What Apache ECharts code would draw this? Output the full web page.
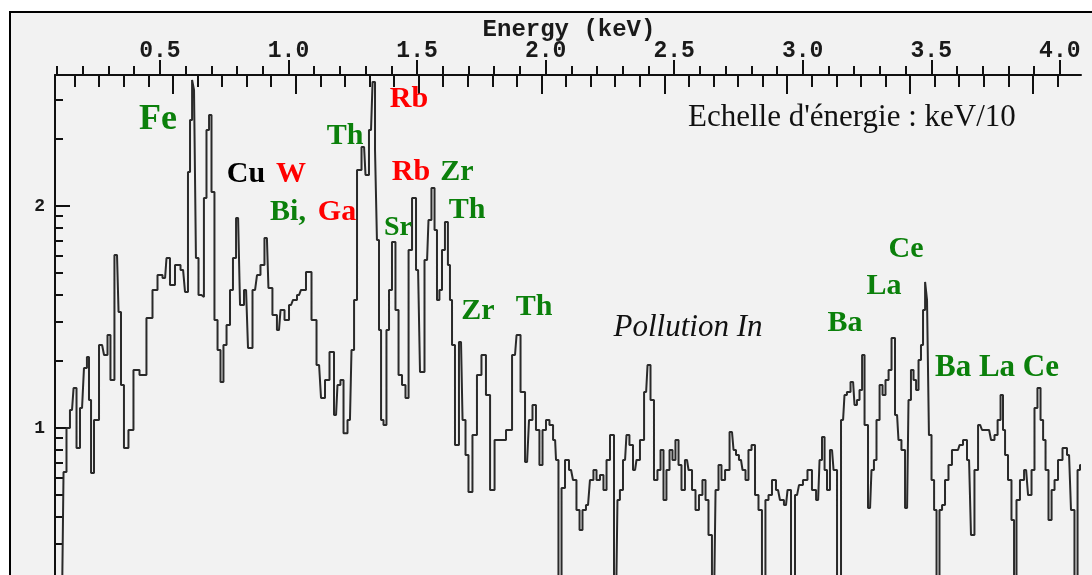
<!DOCTYPE html>
<html>
<head>
<meta charset="utf-8">
<script src="https://cdn.jsdelivr.net/npm/echarts@6/dist/echarts.min.js"></script>
<style>
  html, body { margin: 0; padding: 0; background: #ffffff; }
  #frame { position: absolute; left: 9px; top: 11px; width: 1200px; height: 700px;
           border: 2px solid #000; background: #f2f2f2; }
  #chart { position: absolute; left: 0; top: 0; width: 1092px; height: 575px; }
</style>
</head>
<body>
<div id="frame"></div>
<div id="chart"></div>
<script>
// ---- data (energy in keV, counts on the log10 scale shown on the left axis) ----
const energyKeV = [
0.096,0.119,0.131,0.142,0.158,0.170,0.181,0.197,0.212,0.220,
0.228,0.236,0.251,0.275,0.290,0.302,0.313,0.333,0.345,0.352,
0.368,0.387,0.407,0.434,0.461,0.481,0.500,0.520,0.531,0.547,
0.570,0.590,0.605,0.613,0.621,0.629,0.636,0.644,0.656,0.667,
0.675,0.687,0.695,0.706,0.718,0.730,0.741,0.753,0.765,0.780,
0.788,0.804,0.819,0.835,0.850,0.870,0.885,0.897,0.916,0.928,
0.947,0.963,0.975,0.994,1.010,1.025,1.041,1.056,1.080,1.099,
1.119,1.134,1.150,1.169,1.185,1.196,1.208,1.220,1.239,1.251,
1.259,1.274,1.294,1.305,1.321,1.333,1.340,1.348,1.356,1.364,
1.375,1.387,1.395,1.410,1.422,1.434,1.449,1.461,1.473,1.488,
1.504,1.519,1.539,1.550,1.562,1.574,1.581,1.593,1.601,1.616,
1.624,1.632,1.640,1.655,1.671,1.683,1.694,1.706,1.725,1.741,
1.760,1.776,1.792,1.811,1.834,1.858,1.881,1.893,1.912,1.928,
1.943,1.955,1.970,1.982,1.994,2.009,2.021,2.037,2.044,2.056,
2.068,2.083,2.099,2.114,2.126,2.138,2.149,2.165,2.180,2.192,
2.204,2.219,2.231,2.243,2.258,2.274,2.285,2.293,2.309,2.320,
2.332,2.348,2.359,2.375,2.391,2.402,2.414,2.429,2.441,2.453,
2.464,2.476,2.488,2.499,2.511,2.523,2.534,2.550,2.562,2.577,
2.589,2.604,2.616,2.628,2.639,2.655,2.667,2.678,2.690,2.706,
2.725,2.737,2.744,2.760,2.772,2.783,2.795,2.807,2.822,2.834,
2.849,2.861,2.873,2.888,2.904,2.919,2.935,2.947,2.962,2.978,
2.993,3.009,3.028,3.044,3.060,3.071,3.079,3.091,3.098,3.114,
3.126,3.141,3.157,3.168,3.176,3.196,3.207,3.215,3.227,3.235,
3.246,3.262,3.273,3.281,3.293,3.305,3.316,3.328,3.340,3.351,
3.367,3.378,3.390,3.406,3.417,3.425,3.437,3.445,3.456,3.464,
3.472,3.480,3.487,3.495,3.507,3.515,3.526,3.538,3.546,3.561,
3.573,3.588,3.604,3.616,3.631,3.647,3.662,3.674,3.690,3.705,
3.725,3.740,3.752,3.764,3.775,3.783,3.791,3.806,3.818,3.826,
3.837,3.853,3.869,3.884,3.896,3.907,3.919,3.931,3.939,3.950,
3.962,3.974,3.985,4.001,4.020,4.036,4.051,4.063,4.075,4.082
];
const logCounts = [
0.2,0.2,0.802,1.000,1.081,1.180,0.910,1.090,1.270,1.320,
1.126,0.797,1.036,1.374,1.329,1.419,1.216,1.779,1.523,1.194,
0.910,0.991,1.261,1.239,1.495,1.622,1.689,1.676,1.766,1.644,
1.734,1.712,1.613,2.153,2.387,2.568,2.523,1.766,1.599,1.590,
2.036,2.342,2.410,2.063,1.486,1.351,1.207,1.374,1.464,1.622,
1.766,1.946,1.554,1.622,1.360,1.622,1.689,1.734,1.856,1.631,
1.509,1.441,1.532,1.486,1.554,1.577,1.599,1.622,1.703,1.486,
1.284,1.135,1.216,1.342,1.059,1.194,1.216,0.977,1.036,1.351,
1.577,2.162,2.266,2.140,2.342,2.559,2.252,1.847,1.441,1.036,
1.014,1.441,1.622,1.838,1.532,1.239,1.194,1.135,1.802,2.036,
1.712,1.252,1.757,1.937,2.081,1.892,1.577,1.622,1.802,1.928,
1.734,1.577,1.374,0.923,1.387,1.036,0.878,0.712,0.968,1.239,
1.329,1.149,0.721,0.946,0.946,0.991,1.329,1.419,1.162,0.847,
1.036,1.104,0.991,0.833,0.991,1.036,1.014,0.946,0.856,0.2,
0.730,0.856,0.811,0.766,0.631,0.541,0.631,0.653,0.766,0.811,
0.766,0.788,0.721,0.856,0.968,0.2,0.676,0.721,0.856,0.968,
0.923,0.811,0.856,0.946,1.162,1.284,1.126,0.766,0.811,0.901,
0.676,0.811,0.901,0.856,0.946,0.833,0.721,0.856,0.811,0.721,
0.631,0.698,0.766,0.676,0.518,0.2,0.721,0.833,0.766,0.811,
0.982,0.901,0.878,0.856,0.811,0.766,0.901,0.923,0.698,0.631,
0.2,0.676,0.698,0.766,0.721,0.676,0.653,0.721,0.2,0.698,
0.743,0.766,0.811,0.721,0.676,0.856,0.959,0.811,0.721,0.901,
0.811,0.2,1.036,1.149,1.162,1.207,1.104,1.126,1.171,1.329,
1.014,0.640,0.811,0.856,1.036,1.194,1.149,1.216,1.261,1.405,
1.059,0.946,0.901,0.640,1.126,1.261,1.216,1.171,1.306,1.374,
1.532,1.658,1.577,0.968,0.766,0.631,0.2,0.631,0.653,0.766,
0.833,0.901,0.901,0.923,0.946,0.856,0.518,0.811,1.014,0.991,
0.991,0.946,0.968,1.036,1.149,0.991,0.878,0.766,0.586,0.2,
0.676,0.766,0.811,0.698,0.811,1.090,1.180,1.036,0.946,0.811,
0.586,0.721,0.766,0.856,0.910,0.878,0.631,0.2,0.811,0.833
];
// tick labels
const energyTickLabels = [0.5, 1.0, 1.5, 2.0, 2.5, 3.0, 3.5, 4.0];
const logTickLabels = [1, 2];
const countMinorTicks = [3,4,5,6,7,8,9,20,30,40,50,60,70,80,90,200,300];

// ---- axis decoration values ----
const energyMinorTicks = [];
for (let k = 1; k <= 40; k++) if (k % 5 !== 0) energyMinorTicks.push(k / 10);
const chanMinor = [], chanMajor = [];
for (let k = 1; k <= 41; k++) { (k % 5 === 0 ? chanMajor : chanMinor).push(k * 10); }
const yMinor = countMinorTicks.map(Math.log10);

const spectrum = energyKeV.map((e, i) => [e, logCounts[i]]);

const E_MIN = 0.0918, E_MAX = 4.0824, C_MIN = 1.99, C_MAX = 419.6, Y_MIN = 0.338, Y_MAX = 2.59;
const AX = '#111';
const mono = '"Liberation Mono", "DejaVu Sans Mono", monospace';
const serif = '"Liberation Serif", "Times New Roman", serif';

function baseX(extra) {
  return Object.assign({
    type: 'value', position: 'top', min: E_MIN, max: E_MAX,
    axisLine: { show: false }, splitLine: { show: false },
    axisLabel: { show: false }, axisTick: { show: false }
  }, extra);
}

const chart = echarts.init(document.getElementById('chart'), null, { renderer: 'canvas' });
const GREEN = '#0b800b', RED = '#ff0000';
function lbl(text, x, y, color, size, style) {
  return { type: 'text', x: x, y: y, z: 100,
    style: { text: text, fill: color, align: 'center', verticalAlign: 'middle',
             font: (style || 'bold') + ' ' + size + 'px ' + serif } };
}
chart.setOption({
  animation: false,
  grid: { left: 55, right: 11, top: 75, bottom: 0, containLabel: false },
  xAxis: [
    baseX({
      axisLine: { show: true, lineStyle: { color: AX, width: 2 } },
      axisTick: { show: true, inside: false, length: 15, customValues: energyTickLabels, lineStyle: { color: AX, width: 2 } },
      axisLabel: { show: true, customValues: energyTickLabels, margin: 12, color: '#1a1a1a',
                   fontFamily: mono, fontWeight: 'bold', fontSize: 23,
                   formatter: v => Number(v).toFixed(1) }
    }),
    baseX({
      axisTick: { show: true, inside: false, length: 9, customValues: energyMinorTicks, lineStyle: { color: AX, width: 2 } }
    }),
    baseX({ min: C_MIN, max: C_MAX,
      axisTick: { show: true, inside: true, length: 12, customValues: chanMinor, lineStyle: { color: AX, width: 2 } }
    }),
    baseX({ min: C_MIN, max: C_MAX,
      axisTick: { show: true, inside: true, length: 19, customValues: chanMajor, lineStyle: { color: AX, width: 2 } }
    })
  ],
  yAxis: [
    { type: 'value', position: 'left', min: Y_MIN, max: Y_MAX, splitLine: { show: false },
      axisLine: { show: true, lineStyle: { color: AX, width: 2 } },
      axisTick: { show: true, inside: true, length: 15, customValues: logTickLabels, lineStyle: { color: AX, width: 2 } },
      axisLabel: { show: true, customValues: logTickLabels, margin: 10, color: '#1a1a1a',
                   fontFamily: mono, fontWeight: 'bold', fontSize: 18, formatter: v => String(Math.round(v)) } },
    { type: 'value', position: 'left', min: Y_MIN, max: Y_MAX, splitLine: { show: false },
      axisLine: { show: false }, axisLabel: { show: false },
      axisTick: { show: true, inside: true, length: 8, customValues: yMinor, lineStyle: { color: AX, width: 2 } } }
  ],
  series: [{
    type: 'line', xAxisIndex: 0, yAxisIndex: 0, data: spectrum, step: 'middle',
    showSymbol: false, symbol: 'none', clip: true,
    lineStyle: { color: '#2a2a2a', width: 2 }
  }],
  graphic: [
    { type: 'text', x: 569, y: 30, z: 100,
      style: { text: 'Energy (keV)', fill: '#1a1a1a', align: 'center', verticalAlign: 'middle',
               font: 'bold 24px ' + mono } },
    { type: 'text', x: 688, y: 118, z: 100,
      style: { text: "Echelle d'énergie : keV/10", fill: '#111', align: 'left', verticalAlign: 'middle',
               font: '31px ' + serif } },
    lbl('Fe', 158, 120, GREEN, 36),
    lbl('Cu', 246, 174, '#000', 30),
    lbl('W', 291, 174, RED, 30),
    lbl('Bi,', 288, 212, GREEN, 30),
    lbl('Ga', 337, 212, RED, 30),
    lbl('Th', 345, 136, GREEN, 30),
    lbl('Rb', 409, 99, RED, 30),
    lbl('Rb', 411, 172, RED, 30),
    lbl('Zr', 457, 172, GREEN, 30),
    lbl('Th', 467, 210, GREEN, 30),
    lbl('Sr', 398, 228, GREEN, 28),
    lbl('Zr', 478, 311, GREEN, 30),
    lbl('Th', 534, 307, GREEN, 30),
    lbl('Pollution In', 688, 328, '#111', 31, 'italic'),
    lbl('Ba', 845, 323, GREEN, 30),
    lbl('La', 884, 286, GREEN, 30),
    lbl('Ce', 906, 249, GREEN, 30),
    lbl('Ba La Ce', 997, 368, GREEN, 31)
  ]
});
</script>
</body>
</html>
